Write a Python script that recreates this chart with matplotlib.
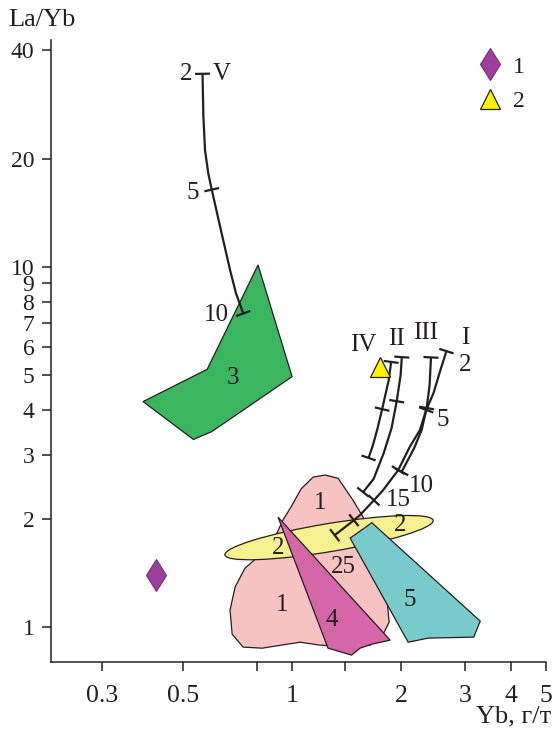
import numpy as np
import matplotlib.pyplot as plt
from matplotlib.patches import Ellipse
from matplotlib.lines import Line2D

plt.rcParams['font.family'] = ['Liberation Serif', 'DejaVu Serif']

INK = '#231f20'

# composition fields, Yb (g/t) vs La/Yb
field1_yb = [1.143, 1.233, 1.339, 1.472, 1.569, 1.661, 1.747, 1.826, 1.850, 1.781, 1.640,
             1.356, 1.194, 1.052, 0.827, 0.733, 0.684, 0.675, 0.697, 0.742, 0.816,
             0.898, 0.944, 1.000, 1.059]
field1_layb = [2.61, 2.644, 2.59, 2.25, 2.02, 1.745, 1.44, 1.189, 1.032, 0.956, 0.891,
               0.885, 0.891, 0.908, 0.874, 0.880, 0.956, 1.115, 1.292, 1.458, 1.585,
               1.778, 1.983, 2.18, 2.42]

# field 2 is an ellipse in log-log space: centre, axes in decades, tilt in degrees
field2_center = (1.264, 1.772)
field2_axes = (0.581, 0.078)
field2_angle = 9.5

field3_yb = [0.806, 1.000, 0.601, 0.535, 0.389, 0.584]
field3_layb = [10.13, 4.96, 3.49, 3.32, 4.23, 5.20]

field4_yb = [0.915, 1.862, 1.661, 1.539, 1.458, 1.256]
field4_layb = [2.02, 0.920, 0.897, 0.874, 0.836, 0.874]

field5_yb = [1.658, 3.296, 3.162, 2.370, 2.087, 1.445]
field5_layb = [1.949, 1.039, 0.938, 0.932, 0.908, 1.767]

# melting trends I-V with marks at the listed vertices
trend_I_yb = [2.66, 2.56, 2.45, 2.34, 2.25, 2.11, 1.96, 1.78, 1.68, 1.54, 1.48, 1.31]
trend_I_layb = [5.84, 5.17, 4.46, 4.01, 3.53, 3.17, 2.73, 2.40, 2.25, 2.05, 1.98, 1.80]
trend_I_marks = [0, 3, 6, 8, 10, 11]

trend_II_yb = [2.005, 1.990, 1.941, 1.879, 1.787, 1.677, 1.569]
trend_II_layb = [5.62, 5.01, 4.24, 3.57, 3.04, 2.58, 2.37]
trend_II_marks = [0, 2, 6]

trend_III_yb = [2.412, 2.391, 2.347, 2.274, 2.168, 2.061, 2.003]
trend_III_layb = [5.61, 4.70, 4.06, 3.53, 3.14, 2.85, 2.70]
trend_III_marks = [0, 2, 6]

trend_IV_yb = [1.874, 1.845, 1.793, 1.770, 1.715, 1.666, 1.624]
trend_IV_layb = [5.45, 4.85, 4.27, 4.03, 3.53, 3.18, 2.95]
trend_IV_marks = [0, 3, 6]

trend_V_yb = [0.567, 0.570, 0.576, 0.588, 0.601, 0.640, 0.675, 0.701, 0.734]
trend_V_layb = [34.4, 26.2, 21.1, 18.2, 16.4, 12.4, 9.81, 8.45, 7.43]
trend_V_marks = [0, 4, 8]

# samples
sample1_yb, sample1_layb = [0.421], [1.395]
sample2_yb, sample2_layb = [1.747], [5.28]

xticks = [0.3, 0.5, 0.8, 1, 1.4, 2, 3, 4, 5]
xtick_labels = ['0.3', '0.5', '', '1', '', '2', '3', '4', '5']
yticks = [1, 2, 3, 4, 5, 6, 7, 8, 9, 10, 20, 40]
ytick_labels = [str(v) for v in yticks]

fig = plt.figure(figsize=(5.53, 7.29), dpi=100)
ax = fig.add_axes([51 / 553, 1 - 662 / 729, 495 / 553, 622 / 729])
ax.set_xscale('log')
ax.set_yscale('log')
ax.set_xlim(0.217, 5.0)
ax.set_ylim(0.8, 42.7)

for s in ['top', 'right']:
    ax.spines[s].set_visible(False)
for s in ['left', 'bottom']:
    ax.spines[s].set_color(INK)
    ax.spines[s].set_linewidth(1.1)

ax.set_xticks(xticks)
ax.set_xticklabels(xtick_labels)
ax.set_yticks(yticks)
ax.set_yticklabels(ytick_labels)
ax.minorticks_off()
ax.tick_params(axis='both', direction='out', length=6.5, width=1.1, color=INK,
               labelcolor=INK)
ax.tick_params(axis='x', pad=10, labelsize=18.5)
ax.tick_params(axis='y', pad=5.5, labelsize=17)

edge = dict(edgecolor=INK, linewidth=0.9)
ax.fill(field1_yb, field1_layb, facecolor='#f7c3c2', zorder=2, **edge)
ell = Ellipse((np.log10(field2_center[0]), np.log10(field2_center[1])),
              field2_axes[0], field2_axes[1], angle=field2_angle,
              transform=ax.transLimits + ax.transAxes,
              facecolor='#f6f08e', zorder=3, **edge)
ax.add_patch(ell)
ax.fill(field3_yb, field3_layb, facecolor='#3bb560', zorder=2, **edge)
ax.fill(field4_yb, field4_layb, facecolor='#d567a9', zorder=4, **edge)
ax.fill(field5_yb, field5_layb, facecolor='#79cbcb', zorder=4, **edge)


def draw_trend(xs, ys, marks, half=7.5):
    ax.plot(xs, ys, color=INK, lw=1.6, zorder=6, solid_capstyle='butt')
    pts = ax.transData.transform(np.column_stack([xs, ys]))
    for i in marks:
        a, b = pts[max(i - 1, 0)], pts[min(i + 1, len(xs) - 1)]
        d = (b - a) / np.hypot(*(b - a))
        n = np.array([-d[1], d[0]])
        seg = ax.transData.inverted().transform([pts[i] - half * n, pts[i] + half * n])
        ax.plot(seg[:, 0], seg[:, 1], color=INK, lw=1.6, zorder=6,
                solid_capstyle='butt')


draw_trend(trend_I_yb, trend_I_layb, trend_I_marks)
draw_trend(trend_II_yb, trend_II_layb, trend_II_marks)
draw_trend(trend_III_yb, trend_III_layb, trend_III_marks)
draw_trend(trend_IV_yb, trend_IV_layb, trend_IV_marks)
draw_trend(trend_V_yb, trend_V_layb, trend_V_marks)

diamond = dict(marker='d', ms=16.5, color='#9c3f9c', mec='#7d2c7d', mew=0.8)
triangle = dict(marker='^', ms=15, color='#fff200', mec=INK, mew=0.9)
ax.plot(sample1_yb, sample1_layb, ls='none', zorder=7, **diamond)
ax.plot(sample2_yb, sample2_layb, ls='none', zorder=7, **triangle)

lab = dict(fontsize=18, color=INK, ha='center', va='center', zorder=8)
for x, y, t in [(0.510, 34.4, '2'), (0.641, 34.4, 'V'), (0.534, 16.05, '5'),
                (0.617, 7.36, '10'), (0.688, 4.92, '3'),
                (1.575, 6.07, 'IV'), (1.934, 6.31, 'II'), (2.325, 6.56, 'III'),
                (2.998, 6.35, 'I'), (2.998, 5.34, '2'), (2.606, 3.76, '5'),
                (2.267, 2.465, '10'), (1.959, 2.25, '15'), (1.382, 1.468, '25'),
                (1.194, 2.21, '1'), (0.939, 1.151, '1'), (0.915, 1.658, '2'),
                (1.984, 1.920, '2'), (1.289, 1.046, '4'), (2.113, 1.189, '5')]:
    ax.text(x, y, t, **lab)

handles = [Line2D([], [], ls='none', **diamond),
           Line2D([], [], ls='none', **triangle)]
leg = ax.legend(handles, ['1', '2'], loc='upper left',
                bbox_to_anchor=(478 / 553, 1 - 56 / 729),
                bbox_transform=fig.transFigure, frameon=False, fontsize=17,
                handlelength=1.0, handletextpad=0.5, labelspacing=0.55,
                borderpad=0, borderaxespad=0)
for t in leg.get_texts():
    t.set_color(INK)

fig.text(8 / 553, 1 - 20 / 729, 'La/Yb', fontsize=19, color=INK,
         ha='left', va='center')
fig.text(551 / 553, 1 - 716 / 729, 'Yb, г/т', fontsize=19, color=INK,
         ha='right', va='center')

fig.savefig('out.png', dpi=100)
